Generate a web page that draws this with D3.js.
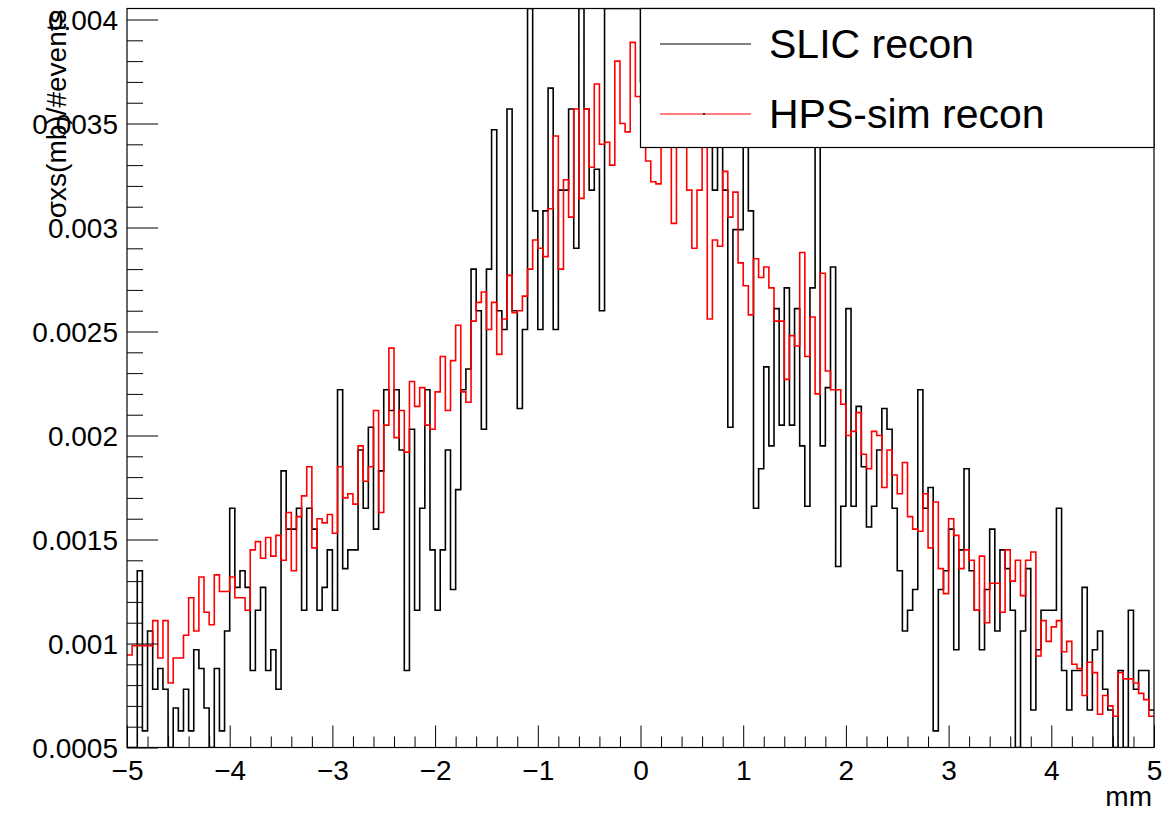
<!DOCTYPE html>
<html><head><meta charset="utf-8">
<script src="https://cdn.jsdelivr.net/npm/d3@7"></script>
<style>
body{margin:0;background:#fff}
svg{display:block}
text{font-family:"Liberation Sans",Arial,Helvetica,sans-serif}
</style>
</head><body><div id="chart"></div>
<script>
// ---- data ----
const xRange = [-5, 5];
const nBins = 200;
const yRange = [0.0005, 0.004053];
const xMajorTicks = [-5,-4,-3,-2,-1,0,1,2,3,4,5];
const xTickLabels = ["\u22125","\u22124","\u22123","\u22122","\u22121","0","1","2","3","4","5"];
const yMajorTicks = [0.0005,0.001,0.0015,0.002,0.0025,0.003,0.0035,0.004];
const yTickLabels = ["0.0005","0.001","0.0015","0.002","0.0025","0.003","0.0035","0.004"];
const xTitle = "mm";
const yTitle = "\u03c3xs(mb)/#events";
const seriesNames = ["SLIC recon","HPS-sim recon"];

const slic = [
0.0004,0.0004,0.00135,0.00058,0.00106,0.00078,0.00088,0.00078,0.0004,0.00069,
0.00058,0.00078,0.00058,0.00097,0.00088,0.00069,0.0004,0.00088,0.00058,0.00106,
0.00165,0.00127,0.00135,0.00127,0.00087,0.00116,0.00127,0.00087,0.00097,0.00078,
0.00183,0.00155,0.00155,0.00165,0.00116,0.00165,0.00155,0.00116,0.00127,0.00145,
0.00116,0.00222,0.00136,0.00145,0.00145,0.00193,0.00165,0.00204,0.00155,0.00183,
0.00222,0.00212,0.00222,0.00193,0.00087,0.00203,0.00116,0.00165,0.00222,0.00145,
0.00116,0.00145,0.00193,0.00126,0.00174,0.00222,0.00232,0.0028,0.0026,0.00203,
0.0028,0.00347,0.0026,0.00251,0.00357,0.0026,0.00213,0.00251,0.0042,0.00308,
0.00251,0.00308,0.00367,0.00251,0.00318,0.00318,0.00357,0.0029,0.0042,0.00357,
0.00318,0.00328,0.0026,0.0042,0.0042,0.0042,0.0042,0.0042,0.0042,0.0042,
0.0037,0.0035,0.0039,0.0036,0.0042,0.0038,0.0036,0.0035,0.0039,0.0037,
0.0036,0.0038,0.0035,0.0036,0.00318,0.0036,0.00318,0.00204,0.00299,0.00299,
0.0036,0.00308,0.00165,0.00184,0.00233,0.00195,0.00261,0.00205,0.00271,0.00205,
0.00261,0.00195,0.00166,0.00271,0.0037,0.00195,0.00223,0.00281,0.00137,0.00166,
0.00261,0.00166,0.00214,0.00185,0.00156,0.00166,0.00193,0.00213,0.00203,0.00165,
0.00135,0.00106,0.00116,0.00126,0.00222,0.00165,0.00175,0.00058,0.00126,0.00135,
0.00155,0.00097,0.00145,0.00184,0.00135,0.00116,0.00097,0.00126,0.00155,0.00106,
0.00145,0.00136,0.00116,0.0004,0.00106,0.00136,0.00068,0.00097,0.00116,0.00116,
0.00116,0.00165,0.00087,0.00068,0.00087,0.00087,0.00127,0.00068,0.00097,0.00106,
0.00078,0.00068,0.0004,0.00087,0.0004,0.00116,0.00078,0.00087,0.00087,0.00068
];

const hps = [
0.000945,0.00099,0.00099,0.00099,0.00099,0.00111,0.00093,0.00111,0.00081,0.00093,
0.00093,0.00104,0.00122,0.00106,0.00132,0.00115,0.00109,0.00133,0.00125,0.00125,
0.00132,0.00122,0.00122,0.00116,0.00145,0.00149,0.00141,0.00151,0.00142,0.00152,
0.0014,0.00163,0.00135,0.00161,0.00171,0.00185,0.00146,0.0016,0.00158,0.00162,
0.00153,0.00185,0.0017,0.00172,0.00167,0.00195,0.00178,0.00185,0.00212,0.00163,
0.00205,0.00242,0.00199,0.00212,0.00192,0.00226,0.00214,0.00223,0.00205,0.00203,
0.00221,0.00238,0.00212,0.00236,0.00253,0.00221,0.00216,0.00255,0.00264,0.00269,
0.00251,0.00264,0.00239,0.00256,0.00277,0.00259,0.0026,0.00267,0.0028,0.00294,
0.0029,0.00286,0.00309,0.00344,0.0028,0.00323,0.00305,0.00357,0.00314,0.00357,
0.00329,0.00369,0.0034,0.00341,0.0033,0.0038,0.0035,0.00346,0.00389,0.00363,
0.0036,0.00332,0.00322,0.00321,0.0035,0.0036,0.00302,0.0035,0.0035,0.00318,
0.0029,0.00318,0.0035,0.00256,0.00294,0.00291,0.00327,0.00305,0.00317,0.00283,
0.00272,0.00258,0.00285,0.00276,0.00281,0.00271,0.00255,0.00255,0.00227,0.00248,
0.00243,0.00288,0.00238,0.00257,0.0022,0.00278,0.00231,0.00222,0.00222,0.00215,
0.002,0.00202,0.00211,0.00191,0.00184,0.00202,0.002,0.00175,0.00193,0.00181,
0.00172,0.00187,0.00161,0.00155,0.00154,0.00172,0.00146,0.00168,0.00136,0.00124,
0.0016,0.00152,0.00136,0.00145,0.0014,0.00116,0.00142,0.0011,0.00129,0.00129,
0.00115,0.00145,0.0013,0.0014,0.00123,0.0014,0.00144,0.00094,0.00111,0.00101,
0.00108,0.00111,0.00096,0.00101,0.0009,0.00088,0.00075,0.00091,0.00086,0.00066,
0.00075,0.0007,0.00065,0.00086,0.00083,0.00083,0.00081,0.00076,0.00073,0.00065
];

// ---- layout ----
const W = 1162, H = 814;
const frame = {left:127, right:1154, top:8.5, bottom:747.5};
const svg = d3.select("#chart").append("svg").attr("width", W).attr("height", H);

const x = d3.scaleLinear().domain(xRange).range([frame.left, frame.right]);
const y = d3.scaleLinear().domain(yRange).range([frame.bottom, frame.top]).clamp(true);

const binW = (xRange[1]-xRange[0]) / nBins;
const edges = d3.range(nBins + 1).map(i => xRange[0] + i * binW);

function stepPoints(vals) {
  const pts = vals.map((v, i) => [edges[i], v]);
  pts.push([edges[nBins], vals[nBins - 1]]);
  return pts;
}
const line = d3.line().x(d => x(d[0])).y(d => y(d[1])).curve(d3.curveStepAfter);

svg.append("defs").append("clipPath").attr("id","fr")
  .append("rect").attr("x", frame.left).attr("y", frame.top)
  .attr("width", frame.right-frame.left).attr("height", frame.bottom-frame.top);

const plot = svg.append("g").attr("clip-path","url(#fr)");
plot.append("path").attr("d", line(stepPoints(slic)))
  .attr("fill","none").attr("stroke","#000").attr("stroke-width",1.6);
plot.append("path").attr("d", line(stepPoints(hps)))
  .attr("fill","none").attr("stroke","#ff0000").attr("stroke-width",1.6);

// ---- axes ----
const yMinor = d3.range(6, 41).map(i => i * 0.0001).filter(v => !yMajorTicks.some(m => Math.abs(m - v) < 1e-9));
const xMinor = d3.range(-25, 26).map(i => i * 0.2).filter(v => !xMajorTicks.some(m => Math.abs(m - v) < 1e-9));

function styleAxis(g) {
  g.select(".domain").remove();
  g.selectAll(".tick line").attr("stroke","#000").attr("stroke-width",1);
}
svg.append("g").attr("transform",`translate(${frame.left},0)`)
  .call(d3.axisRight(y).tickValues(yMajorTicks).tickSize(31).tickFormat(""))
  .call(styleAxis);
svg.append("g").attr("transform",`translate(${frame.left},0)`)
  .call(d3.axisRight(y).tickValues(yMinor).tickSize(16).tickFormat(""))
  .call(styleAxis);
const yl = svg.append("g").attr("transform",`translate(${frame.left},0)`)
  .call(d3.axisLeft(y).tickValues(yMajorTicks).tickSize(0).tickPadding(9)
    .tickFormat((d,i) => yTickLabels[i]))
  .call(styleAxis);
yl.selectAll("text").attr("font-size",28).attr("fill","#000")
  .attr("font-family",'"Liberation Sans",Arial,sans-serif').attr("dy","0.35em");

svg.append("g").attr("transform",`translate(0,${frame.bottom})`)
  .call(d3.axisTop(x).tickValues(xMajorTicks).tickSize(22).tickFormat(""))
  .call(styleAxis);
svg.append("g").attr("transform",`translate(0,${frame.bottom})`)
  .call(d3.axisTop(x).tickValues(xMinor).tickSize(11).tickFormat(""))
  .call(styleAxis);
const xl = svg.append("g").attr("transform",`translate(0,${frame.bottom})`)
  .call(d3.axisBottom(x).tickValues(xMajorTicks).tickSize(0).tickPadding(0)
    .tickFormat((d,i) => xTickLabels[i]))
  .call(styleAxis);
xl.selectAll("text").attr("font-size",28).attr("fill","#000")
  .attr("font-family",'"Liberation Sans",Arial,sans-serif')
  .attr("dy",null).attr("y",32);

// frame
svg.append("rect").attr("x",frame.left).attr("y",frame.top)
  .attr("width",frame.right-frame.left).attr("height",frame.bottom-frame.top)
  .attr("fill","none").attr("stroke","#000").attr("stroke-width",1.2);

// titles
svg.append("text").attr("x",frame.right-2).attr("y",806).attr("text-anchor","end")
  .attr("font-size",28).attr("fill","#000").text(xTitle);
svg.append("text").attr("transform",`translate(66,${frame.top+1}) rotate(-90)`)
  .attr("text-anchor","end").attr("font-size",28).attr("fill","#000").text(yTitle);

// ---- legend ----
const leg = svg.append("g");
leg.append("rect").attr("x",640.5).attr("y",8.5).attr("width",513.5).attr("height",139)
  .attr("fill","#fff").attr("stroke","#000").attr("stroke-width",1.2);
const legColors = ["#000","#ff0000"];
const legY = [44, 114];
seriesNames.forEach((name, i) => {
  leg.append("line").attr("x1",660).attr("x2",751).attr("y1",legY[i]).attr("y2",legY[i])
    .attr("stroke",legColors[i]).attr("stroke-width",1.2);
  leg.append("text").attr("x",769).attr("y",legY[i]).attr("dy","0.35em")
    .attr("font-size",41).attr("fill","#000").text(name);
});
leg.append("rect").attr("x",703).attr("y",113).attr("width",2).attr("height",2).attr("fill","#333");
</script>
</body></html>
